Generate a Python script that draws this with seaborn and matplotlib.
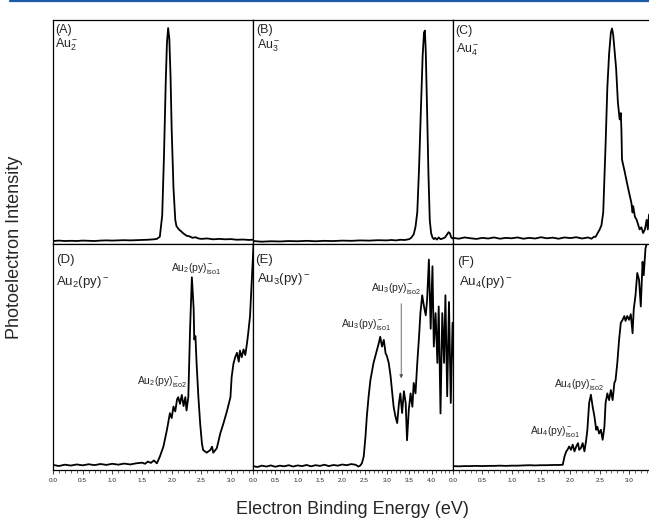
"""
Photoelectron spectra of Au_n^- and Au_n(py)^- clusters (n = 2-4), 2x3 panel grid.
Writes out.png
"""
import matplotlib
matplotlib.use("Agg")
import matplotlib.pyplot as plt
from matplotlib.lines import Line2D
from matplotlib.ticker import MultipleLocator, FormatStrFormatter
import seaborn as sns

# ---- data (eV, normalized intensity) ----
A_ev = [0.0, 0.1, 0.2, 0.3, 0.4, 0.5, 0.6, 0.7, 0.8, 0.9, 1.0, 1.1, 1.2, 1.3, 1.4, 1.5, 1.6, 1.7,
        1.75, 1.8, 1.84, 1.87, 1.9, 1.92, 1.94, 1.96, 1.98, 2.0, 2.03, 2.06, 2.08, 2.12, 2.16, 2.2,
        2.25, 2.3, 2.35, 2.4, 2.45, 2.5, 2.6, 2.7, 2.8, 2.9, 3.0, 3.1, 3.2, 3.3, 3.37]
A_int = [0.0, 0.002, 0.0, 0.001, 0.0, 0.002, 0.001, 0.0, 0.002, 0.003, 0.002, 0.003, 0.004, 0.003,
         0.004, 0.005, 0.006, 0.008, 0.01, 0.02, 0.12, 0.4, 0.75, 0.93, 1.0, 0.95, 0.78, 0.52, 0.25,
         0.1, 0.07, 0.055, 0.045, 0.035, 0.025, 0.022, 0.015, 0.018, 0.012, 0.01, 0.012, 0.008, 0.01,
         0.008, 0.009, 0.006, 0.007, 0.005, 0.006]

B_ev = [0.0, 0.2, 0.4, 0.6, 0.8, 1.0, 1.2, 1.4, 1.6, 1.8, 2.0, 2.2, 2.4, 2.6, 2.8, 3.0, 3.1, 3.2,
        3.3, 3.4, 3.5, 3.55, 3.6, 3.64, 3.68, 3.72, 3.76, 3.8, 3.83, 3.85, 3.87, 3.9, 3.93, 3.96,
        3.99, 4.02, 4.05, 4.08, 4.12, 4.16, 4.2, 4.25, 4.3, 4.35, 4.38, 4.41, 4.44, 4.47, 4.5]
B_int = [0.003, 0.0, 0.002, 0.001, 0.003, 0.002, 0.004, 0.002, 0.004, 0.003, 0.005, 0.004, 0.006,
         0.005, 0.007, 0.006, 0.008, 0.006, 0.009, 0.008, 0.012, 0.02, 0.035, 0.07, 0.14, 0.35, 0.62,
         0.88, 0.99, 1.0, 0.9, 0.62, 0.32, 0.1, 0.04, 0.02, 0.012, 0.018, 0.01, 0.02, 0.012, 0.015,
         0.02, 0.035, 0.045, 0.04, 0.02, 0.015, 0.02]

C_ev = [0.0, 0.1, 0.2, 0.3, 0.4, 0.5, 0.6, 0.7, 0.8, 0.9, 1.0, 1.1, 1.2, 1.3, 1.4, 1.5, 1.6, 1.7,
        1.8, 1.9, 2.0, 2.1, 2.2, 2.3, 2.36, 2.4, 2.43, 2.47, 2.5, 2.53, 2.56, 2.6, 2.63, 2.66, 2.69,
        2.71, 2.73, 2.78, 2.81, 2.84, 2.86, 2.87, 2.88, 2.92, 2.98, 3.04, 3.06, 3.07, 3.1, 3.13,
        3.18, 3.21, 3.24, 3.27, 3.3, 3.32, 3.34]
C_int = [0.01, 0.006, 0.012, 0.008, 0.005, 0.01, 0.007, 0.012, 0.006, 0.01, 0.008, 0.012, 0.006,
         0.01, 0.007, 0.013, 0.008, 0.011, 0.006, 0.012, 0.009, 0.013, 0.007, 0.012, 0.006, 0.015,
         0.015, 0.035, 0.05, 0.07, 0.13, 0.45, 0.72, 0.88, 0.98, 1.0, 0.97, 0.81, 0.65, 0.57, 0.6,
         0.52, 0.38, 0.33, 0.25, 0.175, 0.13, 0.16, 0.11, 0.095, 0.05, 0.06, 0.033, 0.05, 0.095,
         0.05, 0.12]

D_ev = [0.0, 0.1, 0.2, 0.3, 0.4, 0.5, 0.6, 0.7, 0.8, 0.9, 1.0, 1.1, 1.2, 1.3, 1.4, 1.5, 1.55,
        1.6, 1.65, 1.7, 1.75, 1.8, 1.86, 1.92, 1.95, 1.97, 2.0, 2.03, 2.06, 2.09, 2.11, 2.14, 2.17,
        2.2, 2.23, 2.25, 2.28, 2.31, 2.34, 2.37, 2.38, 2.4, 2.42, 2.45, 2.48, 2.51, 2.53, 2.59,
        2.65, 2.68, 2.7, 2.76, 2.82, 2.87, 2.93, 2.99, 3.01, 3.04, 3.07, 3.1, 3.13, 3.15, 3.18,
        3.21, 3.24, 3.27, 3.29, 3.32, 3.35, 3.38]
D_int = [0.005, 0.0, 0.006, 0.002, 0.007, 0.003, 0.008, 0.004, 0.009, 0.005, 0.01, 0.006, 0.011,
         0.007, 0.012, 0.015, 0.01, 0.02, 0.014, 0.025, 0.012, 0.042, 0.087, 0.163, 0.208, 0.238,
         0.216, 0.268, 0.246, 0.3, 0.31, 0.28, 0.32, 0.27, 0.31, 0.25, 0.31, 0.62, 0.85, 0.71,
         0.57, 0.585, 0.46, 0.31, 0.19, 0.1, 0.072, 0.06, 0.072, 0.087, 0.06, 0.08, 0.148, 0.19,
         0.246, 0.31, 0.4, 0.46, 0.49, 0.51, 0.47, 0.52, 0.49, 0.525, 0.5, 0.555, 0.6, 0.675,
         0.84, 1.0]

E_ev = [0.0, 0.1, 0.2, 0.3, 0.4, 0.5, 0.6, 0.7, 0.8, 0.9, 1.0, 1.1, 1.2, 1.3, 1.4, 1.5, 1.6, 1.7,
        1.8, 1.9, 2.0, 2.1, 2.2, 2.3, 2.36, 2.4, 2.44, 2.48, 2.52, 2.55, 2.59, 2.63, 2.7, 2.78,
        2.82, 2.85, 2.89, 2.93, 2.97, 3.0, 3.04, 3.08, 3.12, 3.15, 3.19, 3.23, 3.27, 3.3, 3.34,
        3.38, 3.42, 3.45, 3.49, 3.53, 3.57, 3.6, 3.64, 3.68, 3.72, 3.75, 3.79, 3.83, 3.87, 3.9,
        3.94, 3.98, 4.02, 4.05, 4.09, 4.13, 4.16, 4.2, 4.24, 4.28, 4.31, 4.35, 4.39, 4.43, 4.47,
        4.5]
E_int = [0.004, 0.0, 0.006, 0.002, 0.007, 0.001, 0.006, 0.003, 0.008, 0.002, 0.007, 0.004, 0.009,
         0.003, 0.008, 0.005, 0.01, 0.004, 0.009, 0.006, 0.011, 0.008, 0.013, 0.01, 0.002, 0.006,
         0.017, 0.047, 0.137, 0.227, 0.317, 0.39, 0.467, 0.527, 0.557, 0.584, 0.54, 0.57, 0.51,
         0.497, 0.467, 0.41, 0.33, 0.27, 0.227, 0.197, 0.287, 0.33, 0.242, 0.34, 0.287, 0.12, 0.257,
         0.33, 0.27, 0.377, 0.33, 0.467, 0.587, 0.69, 0.77, 0.72, 0.68, 0.75, 0.93, 0.62, 0.9, 0.54,
         0.69, 0.467, 0.72, 0.24, 0.69, 0.467, 0.77, 0.317, 0.74, 0.287, 0.647, 0.467]

F_ev = [0.0, 0.1, 0.2, 0.3, 0.4, 0.5, 0.6, 0.7, 0.8, 0.9, 1.0, 1.1, 1.2, 1.3, 1.4, 1.5, 1.6, 1.7,
        1.8, 1.87, 1.9, 1.93, 1.95, 1.98, 2.01, 2.04, 2.07, 2.1, 2.13, 2.15, 2.18, 2.21, 2.24, 2.27,
        2.29, 2.32, 2.35, 2.38, 2.41, 2.44, 2.46, 2.49, 2.52, 2.55, 2.58, 2.6, 2.63, 2.66, 2.69,
        2.72, 2.75, 2.77, 2.8, 2.83, 2.86, 2.89, 2.92, 2.94, 2.97, 3.0, 3.03, 3.06, 3.08, 3.11,
        3.14, 3.17, 3.2, 3.23, 3.25, 3.28, 3.32]
F_int = [0.004, 0.003, 0.004, 0.004, 0.005, 0.004, 0.005, 0.005, 0.006, 0.005, 0.006, 0.006,
         0.007, 0.008, 0.007, 0.008, 0.008, 0.009, 0.009, 0.01, 0.047, 0.07, 0.077, 0.092, 0.077,
         0.1, 0.07, 0.092, 0.107, 0.077, 0.085, 0.107, 0.07, 0.122, 0.167, 0.287, 0.324, 0.27,
         0.227, 0.167, 0.18, 0.15, 0.167, 0.122, 0.18, 0.287, 0.33, 0.3, 0.345, 0.3, 0.377, 0.39,
         0.467, 0.57, 0.647, 0.66, 0.677, 0.655, 0.677, 0.66, 0.685, 0.6, 0.707, 0.77, 0.87, 0.84,
         0.72, 0.92, 0.86, 0.98, 1.02]

PANELS = [
    ("(A)", r"Au$_2^-$", A_ev, A_int),
    ("(B)", r"Au$_3^-$", B_ev, B_int),
    ("(C)", r"Au$_4^-$", C_ev, C_int),
    ("(D)", r"Au$_2$(py)$^-$", D_ev, D_int),
    ("(E)", r"Au$_3$(py)$^-$", E_ev, E_int),
    ("(F)", r"Au$_4$(py)$^-$", F_ev, F_int),
]
XMAX = [3.37, 4.48, 3.34, 3.37, 4.48, 3.34]
YLIM = [(-0.014, 1.038), (-0.011, 1.05), (-0.019, 1.04),
        (-0.018, 1.0), (-0.0135, 1.0), (-0.0135, 1.0)]

sns.set_theme(style="ticks")
plt.rcParams["font.family"] = ["Liberation Sans", "DejaVu Sans"]
plt.rcParams["mathtext.fontset"] = "custom"
plt.rcParams["mathtext.rm"] = "Liberation Sans"
plt.rcParams["mathtext.it"] = "Liberation Sans:italic"
plt.rcParams["mathtext.bf"] = "Liberation Sans:bold"

W, H = 649, 519
fig = plt.figure(figsize=(W / 100, H / 100), dpi=100)

col_x = [(53, 253), (253, 453), (453, 649)]
row_y = [(20, 244), (244, 470)]


def px_box(x0, x1, y0, y1):
    return [x0 / W, 1 - y1 / H, (x1 - x0) / W, (y1 - y0) / H]


axes = []
for i, (tag, name, ev, inten) in enumerate(PANELS):
    r, c = divmod(i, 3)
    ax = fig.add_axes(px_box(*col_x[c], *row_y[r]))
    sns.lineplot(x=ev, y=inten, ax=ax, color="black", linewidth=1.3, estimator=None)
    ax.set_xlim(0, XMAX[i])
    ax.set_ylim(*YLIM[i])
    ax.set_yticks([])
    ax.set_xlabel("")
    ax.set_ylabel("")
    ax.xaxis.set_major_locator(MultipleLocator(0.5))
    ax.xaxis.set_minor_locator(MultipleLocator(0.1))
    ax.xaxis.set_major_formatter(FormatStrFormatter("%.1f"))
    ax.tick_params(axis="x", which="major", direction="out", length=3, width=0.6,
                   labelsize=4.6, pad=2.5, colors="#222222", labelbottom=(r == 1))
    ax.tick_params(axis="x", which="minor", direction="out", length=1.8, width=0.5)
    for s in ax.spines.values():
        s.set_color("black")
        s.set_linewidth(0.9)
    if c == 2:
        ax.spines["right"].set_visible(False)
    axes.append(ax)

# panel tags and species names (pixel positions from the reference)
tag_pos = [(55, 30), (256, 30), (455, 31), (56, 260), (255, 260), (457, 262)]
name_pos = [(55, 45), (257, 46), (456, 50), (56, 282), (257, 279), (459, 282)]
for i, (tag, name, _, _) in enumerate(PANELS):
    fs = 9 if i < 3 else 9.5
    fig.text(tag_pos[i][0] / W, 1 - tag_pos[i][1] / H, tag, fontsize=fs, va="center", ha="left")
    fig.text(name_pos[i][0] / W, 1 - name_pos[i][1] / H, name, fontsize=fs, va="center", ha="left")

# isomer annotations
axD, axE, axF = axes[3], axes[4], axes[5]
axD.text(2.41, 0.89, r"Au$_2$(py)$^-_{\rm iso1}$", fontsize=7.5, ha="center", va="center")
axD.text(1.84, 0.38, r"Au$_2$(py)$^-_{\rm iso2}$", fontsize=7.5, ha="center", va="center")
axE.text(2.54, 0.64, r"Au$_3$(py)$^-_{\rm iso1}$", fontsize=7.5, ha="center", va="center")
axE.text(3.21, 0.80, r"Au$_3$(py)$^-_{\rm iso2}$", fontsize=7.5, ha="center", va="center")
axE.annotate("", xy=(3.32, 0.385), xytext=(3.32, 0.745),
             arrowprops=dict(arrowstyle="-|>", color="#555555", lw=0.6,
                             mutation_scale=5))
axF.text(2.14, 0.37, r"Au$_4$(py)$^-_{\rm iso2}$", fontsize=7.5, ha="center", va="center")
axF.text(1.74, 0.16, r"Au$_4$(py)$^-_{\rm iso1}$", fontsize=7.5, ha="center", va="center")

fig.text(15 / W, 1 - 247 / H, "Photoelectron Intensity", rotation=90, fontsize=13,
         ha="center", va="center")
fig.text(352 / W, 1 - 509 / H, "Electron Binding Energy (eV)", fontsize=13,
         ha="center", va="center")

# journal header rule
fig.add_artist(Line2D([10 / W, 1.0], [1 - 1 / H, 1 - 1 / H], color="#1a5aa6", lw=1.6))

fig.savefig("out.png", dpi=100)
plt.close(fig)
